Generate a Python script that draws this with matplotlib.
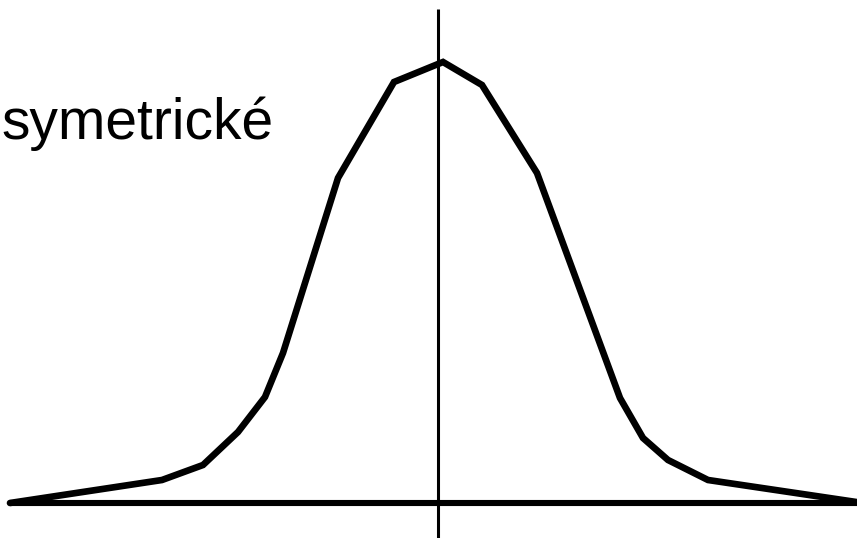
#!/usr/bin/env python3
"""symetricke.py - symmetric bell-shaped distribution sketch"""

import matplotlib
matplotlib.use("Agg")
import matplotlib.pyplot as plt

# curve vertices, x relative to the axis of symmetry, y above the baseline
curve_x = [-428, -276, -235, -200, -173, -155, -100, -44, 5, 44, 99, 182, 205, 230, 270, 425]
curve_y = [0, 23, 38, 71, 106, 150, 325, 421, 441, 418, 330, 105, 65, 43, 23, 0]

baseline_x = [-428, 425]
axis_top = 494
label = "symetrické"


def main() -> None:
    fig = plt.figure(figsize=(8.57, 5.38), dpi=100)
    ax = fig.add_axes([0, 0, 1, 1])
    ax.set_xlim(-438, 419)
    ax.set_ylim(-35, 503)
    ax.axis("off")

    # axis of symmetry
    ax.plot([0, 0], [-35, axis_top], color="black", lw=2.2, solid_capstyle="butt")
    # baseline
    ax.plot(baseline_x, [0, 0], color="black", lw=4.4, solid_capstyle="butt")
    # the distribution curve
    ax.plot(curve_x, curve_y, color="black", lw=4.8,
            solid_capstyle="round", solid_joinstyle="miter")

    ax.text(-437, 364, label, fontsize=41, family=["Liberation Sans", "DejaVu Sans"],
            ha="left", va="baseline", color="black")

    fig.savefig("out.png", dpi=100, facecolor="white")


if __name__ == "__main__":
    main()
